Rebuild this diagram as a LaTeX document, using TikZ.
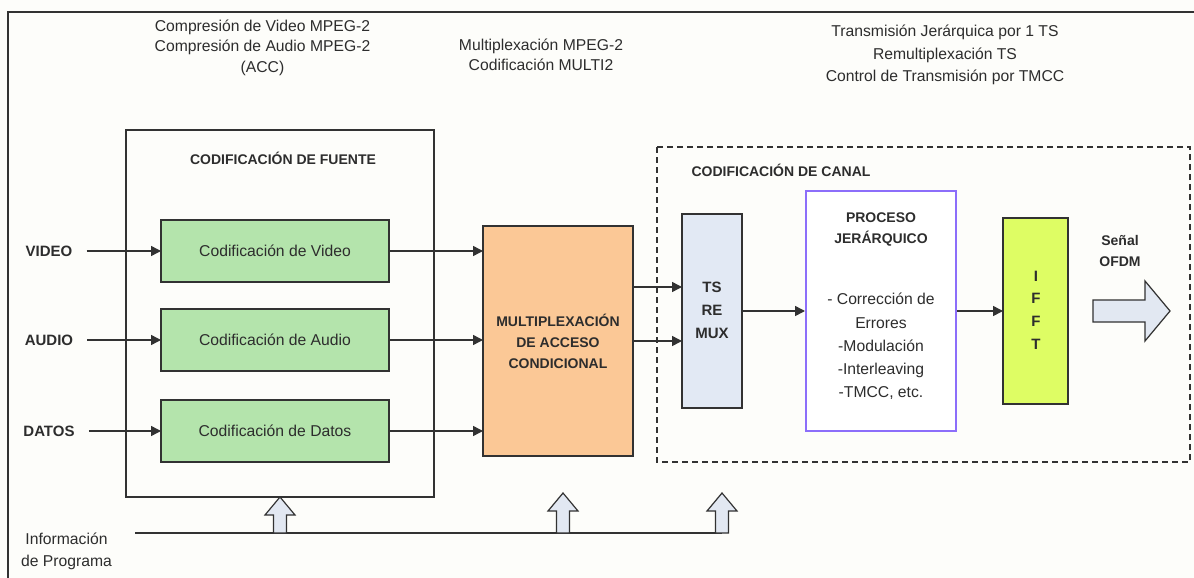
\documentclass[tikz,border=0pt]{standalone}
\usepackage{fontspec}
\setmainfont{Liberation Sans}
\usetikzlibrary{arrows.meta}
\definecolor{bgc}{RGB}{253,253,250}
\definecolor{ink}{RGB}{45,45,45}
\definecolor{linec}{RGB}{50,50,50}
\definecolor{greenc}{RGB}{180,228,172}
\definecolor{orangec}{RGB}{251,200,150}
\definecolor{tsc}{RGB}{226,233,244}
\definecolor{procc}{RGB}{140,110,250}
\definecolor{ifftc}{RGB}{222,253,100}
\definecolor{hollowc}{RGB}{226,232,242}
\tikzset{
  blk/.style={draw=linec, line width=1.4pt, inner sep=0pt, outer sep=0pt},
  arr/.style={draw=linec, line width=1.5pt, -{Triangle[length=10pt,width=10pt]}},
  body/.style={font=\fontsize{15.7}{21}\selectfont, text=ink, align=center, inner sep=0pt},
  head/.style={font=\bfseries\fontsize{14}{21}\selectfont, text=ink, align=center, inner sep=0pt},
  hollow/.style={draw=linec, line width=1.2pt, fill=hollowc, line join=miter},
}
% hollow upward block arrow: x, base y, tip y
\newcommand\HollowUp[3]{%
  \draw[hollow] (#1-6.5,#2) -- (#1-6.5,#3+18) -- (#1-15,#3+18) -- (#1,#3)
    -- (#1+15,#3+18) -- (#1+6.5,#3+18) -- (#1+6.5,#2) -- cycle;}
\begin{document}
\begin{tikzpicture}[x=1pt,y=-1pt]
\useasboundingbox (0,0) rectangle (1194,578);
\fill[bgc] (0,0) rectangle (1194,578);
\begin{scope}
\clip (0,0) rectangle (1194,578);
\draw[linec, line width=2pt] (8,590) -- (8,12) -- (1200,12);
\end{scope}

% headings above the blocks
\node[body, font=\fontsize{15.7}{20.5}\selectfont] (tFuente) at (262.5,47.5) {Compresión de Video MPEG-2\\Compresión de Audio MPEG-2\\(ACC)};
\node[body, font=\fontsize{15.7}{19.5}\selectfont] (tMux) at (541,55) {Multiplexación MPEG-2\\Codificación MULTI2};
\node[body, font=\fontsize{15.7}{22.5}\selectfont] (tCanal) at (945,55) {Transmisión Jerárquica por 1 TS\\Remultiplexación TS\\Control de Transmisión por TMCC};

% source coding
\node[blk, line width=1.2pt, minimum width=308pt, minimum height=367pt] (fuente) at (280,313.5) {};
\node[head] (fuenteT) at (283,158) {CODIFICACIÓN DE FUENTE};
\node[blk, fill=greenc, minimum width=228pt, minimum height=62pt, body] (gv) at (275,251) {Codificación de Video};
\node[blk, fill=greenc, minimum width=228pt, minimum height=62pt, body] (ga) at (275,340) {Codificación de Audio};
\node[blk, fill=greenc, minimum width=228pt, minimum height=62pt, body] (gd) at (275,431) {Codificación de Datos};

\node[head, font=\bfseries\fontsize{15}{20}\selectfont] (lv) at (49,251) {VIDEO};
\node[head, font=\bfseries\fontsize{15}{20}\selectfont] (la) at (49,340) {AUDIO};
\node[head, font=\bfseries\fontsize{15}{20}\selectfont] (ld) at (49,431) {DATOS};
\draw[arr, shorten <=14pt] (lv.east) -- (gv.west);
\draw[arr, shorten <=14pt] (la.east) -- (ga.west);
\draw[arr, shorten <=14pt] (ld.east) -- (gd.west);

% conditional access multiplexer
\node[blk, fill=orangec, minimum width=150pt, minimum height=230pt] (mux) at (558,341) {};
\node[head] (muxT) at (mux) {MULTIPLEXACIÓN\\DE ACCESO\\CONDICIONAL};
\draw[arr] (gv.east) -- (gv.east -| mux.west);
\draw[arr] (ga.east) -- (ga.east -| mux.west);
\draw[arr] (gd.east) -- (gd.east -| mux.west);

% channel coding
\draw[linec, line width=1.5pt, dash pattern=on 6pt off 4pt] (657,147) rectangle (1190,462);
\node[head] (canalT) at (781,170) {CODIFICACIÓN DE CANAL};

\node[blk, fill=tsc, minimum width=60pt, minimum height=194pt] (ts) at (712,311) {};
\node[head, font=\bfseries\fontsize{15}{23}\selectfont] (tsT) at (712,310) {TS\\RE\\MUX};
\coordinate (m1) at ([yshift=54pt]mux.east);
\draw[arr] (m1) -- (m1 -| ts.west);
\draw[arr] (mux.east) -- (mux.east -| ts.west);

\node[draw=procc, line width=2pt, fill=white, inner sep=0pt, minimum width=150pt, minimum height=240pt] (proc) at (881,311) {};
\node[head] (procT) at (881,229) {PROCESO\\JERÁRQUICO};
\node[body, font=\fontsize{15.7}{23.2}\selectfont] (procL) at (881,346.5) {- Corrección de\\Errores\\-Modulación\\-Interleaving\\-TMCC, etc.};
\draw[arr] (ts.east) -- (ts.east -| proc.west);

\node[blk, fill=ifftc, minimum width=65pt, minimum height=186pt] (ifft) at (1035.5,311) {};
\node[head, font=\bfseries\fontsize{15}{22.7}\selectfont] (ifftT) at (1036,310) {I\\F\\F\\T};
\draw[arr] (proc.east) -- (proc.east -| ifft.west);

\node[head] (senal) at (1120,250.5) {Señal\\OFDM};
\draw[hollow] (1093,300) -- (1145,300) -- (1145,281) -- (1170,311) -- (1145,341)
  -- (1145,322) -- (1093,322) -- cycle;

% program information bus
\node[body, font=\fontsize{15.7}{22}\selectfont] (info) at (66.5,551) {Información\\de Programa};
\coordinate (busL) at (135,533);
\coordinate (busR) at (722,533);
\draw[linec, line width=1.6pt] (busL) -- (busR);
\HollowUp{280}{533}{497}
\HollowUp{563}{533}{493}
\HollowUp{722}{533}{493}
\end{tikzpicture}
\end{document}
